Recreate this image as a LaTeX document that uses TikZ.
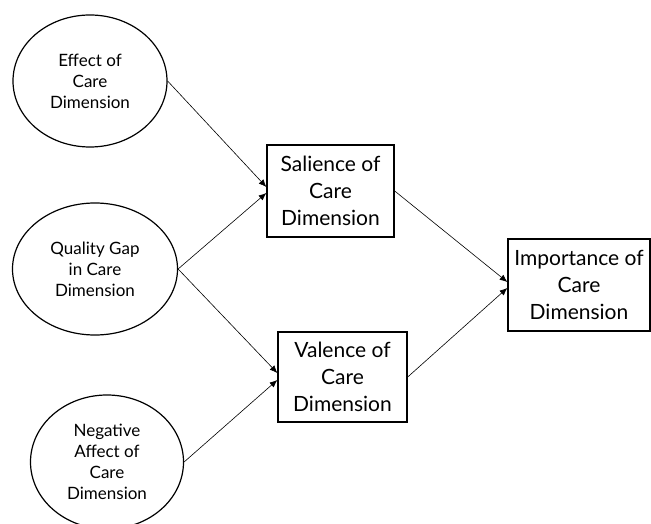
\documentclass[tikz,border=0pt]{standalone}
\usepackage{fontspec}
\setmainfont{Lato}
\usepackage{tikz}
\usetikzlibrary{shapes.geometric}
\usetikzlibrary{arrows.meta}
\usetikzlibrary{positioning}

\tikzset{
  factor/.style={ellipse, draw, line width=0.6pt, inner sep=0pt, align=center,
    font=\fontsize{8.5}{10.5}\selectfont},
  construct/.style={rectangle, draw, line width=0.7pt, inner sep=0pt, align=center,
    font=\fontsize{10.5}{13.5}\selectfont},
  path/.style={line width=0.3pt, -{Latex[length=3.8pt,width=3.2pt]}}
}

\begin{document}
\begin{tikzpicture}[x=0.5pt,y=-0.5pt]
\useasboundingbox (0,0) rectangle (651,523);
\node[factor, minimum width=77pt, minimum height=66pt] (effect) at (90,81) {Effect of\\Care\\Dimension};
\node[factor, minimum width=82.5pt, minimum height=66pt] (gap) at (95,269) {Quality Gap\\in Care\\Dimension};
\node[factor, minimum width=76.5pt, minimum height=67pt] (negative) at (107,462) {Negative\\Affect of\\Care\\Dimension};
\node[construct, minimum width=63.5pt, minimum height=46pt] (salience) at (330.5,191) {Salience of\\Care\\Dimension};
\node[construct, minimum width=64.5pt, minimum height=45pt] (valence) at (342.5,377) {Valence of\\Care\\Dimension};
\node[construct, minimum width=71pt, minimum height=46pt] (importance) at (579,285) {Importance of\\Care\\Dimension};
\draw[path] (effect.east) -- ([yshift=2pt]salience.west);
\draw[path] (gap.east) -- ([yshift=-1pt]salience.west);
\draw[path] (gap.east) -- ([yshift=2pt]valence.west);
\draw[path] (negative.east) -- ([yshift=-1.5pt]valence.west);
\draw[path] (salience.east) -- ([yshift=1.5pt]importance.west);
\draw[path] (valence.east) -- ([yshift=-1.5pt]importance.west);
\end{tikzpicture}
\end{document}
